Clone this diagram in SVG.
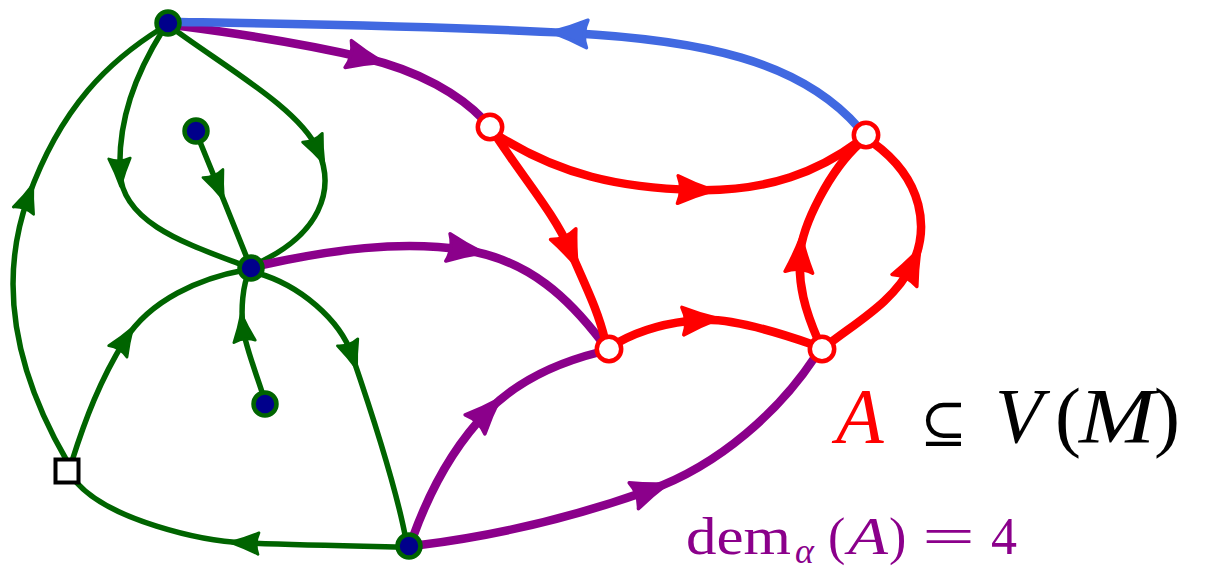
<svg xmlns="http://www.w3.org/2000/svg" width="1211" height="572" viewBox="0 0 1211 572">
<defs>
<style>
.e{fill:none;stroke-linecap:round;stroke-linejoin:round}
.g{stroke:#006400;stroke-width:5.5;marker-mid:url(#ag)}
.p{stroke:#8B008B;stroke-width:8.5;marker-mid:url(#ap)}
.r{stroke:#FF0000;stroke-width:8.5;marker-mid:url(#ar)}
.b{stroke:#4169E1;stroke-width:8.5;marker-mid:url(#ab)}
.gn{fill:#00008B;stroke:#006400;stroke-width:4.5}
.rn{fill:#fff;stroke:#FF0000;stroke-width:4.5}
</style>
<path id="ah" d="M16,0 Q0,-5 -15,-12 Q-10,0 -15,12 Q0,5 16,0 Z"/>
<marker id="ag" markerUnits="userSpaceOnUse" viewBox="-20 -16 40 32" markerWidth="36" markerHeight="28.8" refX="0" refY="0" orient="auto" overflow="visible"><use href="#ah" fill="#006400" stroke="#006400" stroke-width="3" stroke-linejoin="round"/></marker>
<marker id="ap" markerUnits="userSpaceOnUse" viewBox="-20 -16 40 32" markerWidth="46" markerHeight="36.8" refX="0" refY="0" orient="auto" overflow="visible"><use href="#ah" fill="#8B008B" stroke="#8B008B" stroke-width="3" stroke-linejoin="round"/></marker>
<marker id="ar" markerUnits="userSpaceOnUse" viewBox="-20 -16 40 32" markerWidth="46" markerHeight="36.8" refX="0" refY="0" orient="auto" overflow="visible"><use href="#ah" fill="#FF0000" stroke="#FF0000" stroke-width="3" stroke-linejoin="round"/></marker>
<marker id="ab" markerUnits="userSpaceOnUse" viewBox="-20 -16 40 32" markerWidth="46" markerHeight="36.8" refX="0" refY="0" orient="auto" overflow="visible"><use href="#ah" fill="#4169E1" stroke="#4169E1" stroke-width="3" stroke-linejoin="round"/></marker>
</defs>
<rect width="1211" height="572" fill="#fff"/>
<g id="connectors">
<path class="e g" d="M67,461 C20,380 -5,290 28,198 S110,60 162,28"/>
<path class="e g" d="M163,30 C135,75 118,120 120,172 S190,245 245,266"/>
<path class="e g" d="M175,30 C230,70 300,110 318,150 S320,235 256,264"/>
<path class="e g" d="M198,137 L218,186 L249,263"/>
<path class="e g" d="M263,395 C255,370 245,345 243,328 S242,285 250,270"/>
<path class="e g" d="M72,461 C85,420 100,380 125,340 S200,278 245,270"/>
<path class="e g" d="M257,273 C300,285 340,320 352,355 S395,480 406,540"/>
<path class="e g" d="M402,547 C350,546 290,545 245,543 S110,520 77,483"/>
<path class="e p" d="M180,26 C250,35 310,45 365,58 S460,95 484,120"/>
<path class="e p" d="M262,265 C330,250 400,240 465,250 S570,300 602,342"/>
<path class="e p" d="M413,537 C430,490 455,445 487,412 S560,362 600,352"/>
<path class="e p" d="M420,545 C500,535 580,515 650,490 S780,410 815,357"/>
<path class="e b" d="M859,128 C800,60 700,40 570,33 S300,24 180,22"/>
<path class="e r" d="M497,135 C560,175 620,188 695,190 S820,170 858,142"/>
<path class="e r" d="M496,136 C525,180 555,215 570,250 S598,310 605,340"/>
<path class="e r" d="M617,343 C640,330 670,322 700,320 S780,333 814,345"/>
<path class="e r" d="M818,340 C805,310 798,285 800,255 S830,170 860,143"/>
<path class="e r" d="M830,343 C860,320 895,300 912,265 S925,180 872,142"/>
</g>
<g id="n1"><circle class="gn" cx="168" cy="23" r="11.5"/></g>
<g id="n2"><circle class="gn" cx="196" cy="131" r="11.5"/></g>
<g id="n3"><circle class="gn" cx="251" cy="268" r="11.5"/></g>
<g id="n4"><circle class="gn" cx="265" cy="404" r="11.5"/></g>
<g id="n5"><circle class="gn" cx="409" cy="546" r="11.5"/></g>
<g id="sq"><rect x="55.5" y="459.5" width="23" height="23" fill="#fff" stroke="#000" stroke-width="4"/></g>
<g id="r1"><circle class="rn" cx="490" cy="127" r="12.2"/></g>
<g id="r2"><circle class="rn" cx="866" cy="135" r="12.2"/></g>
<g id="r3"><circle class="rn" cx="609" cy="349" r="12.2"/></g>
<g id="r4"><circle class="rn" cx="822" cy="349" r="12.2"/></g>
<g id="label-set">
<text x="836" y="442" font-size="78" font-family="Liberation Serif, serif" font-style="italic" fill="#FF0000">A</text>
<text x="920" y="442" font-size="56" font-family="DejaVu Serif, serif" fill="#000">⊆</text>
<text x="995" y="442" font-size="78" font-family="Liberation Serif, serif" font-style="italic" fill="#000">V</text>
<text x="1055" y="442" font-size="78" font-family="Liberation Serif, serif" fill="#000">(</text>
<text x="1079" y="442" font-size="78" font-family="Liberation Serif, serif" font-style="italic" fill="#000" textLength="76" lengthAdjust="spacingAndGlyphs">M</text>
<text x="1154" y="442" font-size="78" font-family="Liberation Serif, serif" fill="#000">)</text>
</g>
<g id="label-dem" fill="#8B008B">
<text x="686" y="554" font-size="52" font-family="Liberation Serif, serif" textLength="105" lengthAdjust="spacingAndGlyphs">dem</text>
<text x="795" y="563" font-size="36" font-family="Liberation Serif, serif" font-style="italic">α</text>
<text x="828" y="554" font-size="52" font-family="Liberation Serif, serif">(</text>
<text x="848" y="554" font-size="52" font-family="Liberation Serif, serif" font-style="italic" textLength="40" lengthAdjust="spacingAndGlyphs">A</text>
<text x="889" y="554" font-size="52" font-family="Liberation Serif, serif">)</text>
<text x="922" y="554" font-size="52" font-family="Liberation Serif, serif" textLength="53" lengthAdjust="spacingAndGlyphs">=</text>
<text x="991" y="554" font-size="52" font-family="Liberation Serif, serif">4</text>
</g>
</svg>
